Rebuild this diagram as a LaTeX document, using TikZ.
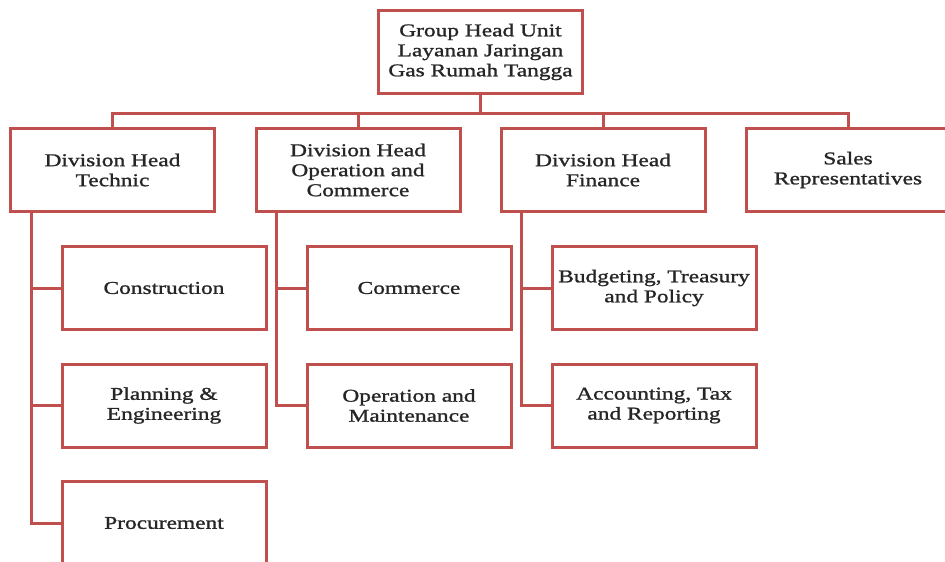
\documentclass[tikz,border=0pt]{standalone}
\usepackage{fontspec}
\setmainfont[FakeStretch=1.3,FakeBold=1.2]{Liberation Serif}
\definecolor{boxred}{HTML}{C0504D}
\definecolor{inktext}{HTML}{262626}
\begin{document}
\begin{tikzpicture}[x=1pt,y=-1pt,
		unitbox/.style={draw=boxred,line width=3pt,fill=white,minimum width=204pt,
			minimum height=83pt,inner sep=0pt,align=center,text=inktext,
			font=\fontsize{18}{20}\selectfont},
		link/.style={draw=boxred,line width=3pt}]
		\useasboundingbox (0,0) rectangle (945,562);
		\clip (0,0) rectangle (945,562);

		% Unitat principal
		\node[unitbox] (gh) at (480.5,52) {Group Head Unit\\Layanan Jaringan\\Gas Rumah Tangga};
		\coordinate (bus) at (0,113);

		% Divisions
		\node[unitbox] (tec) at (112.5,170) {Division Head\\Technic};
		\node[unitbox] (opc) at (358,170) {Division Head\\Operation and\\Commerce};
		\node[unitbox] (fin) at (603,170) {Division Head\\Finance};
		\node[unitbox] (sal) at (848,170) {Sales\\Representatives};

		\foreach \d in {tec,opc,fin,sal} {
			\draw[link] (gh.south) -- (gh.south |- bus) -| (\d.north);
		}

		% Seccions
		\node[unitbox] (con) at (164,288) {Construction};
		\node[unitbox] (pla) at (164,405.5) {Planning \&\\Engineering};
		\node[unitbox] (pro) at (164,523) {Procurement};
		\node[unitbox] (com) at (409,288) {Commerce};
		\node[unitbox] (opm) at (409,405.5) {Operation and\\Maintenance};
		\node[unitbox] (bud) at (654,288) {Budgeting, Treasury\\and Policy};
		\node[unitbox] (acc) at (654,405.5) {Accounting, Tax\\and Reporting};

		\foreach \d/\s in {tec/con,tec/pla,tec/pro,opc/com,opc/opm,fin/bud,fin/acc} {
			\draw[link] ([xshift=22pt]\d.south west) |- (\s.west);
		}
	\end{tikzpicture}
\end{document}
